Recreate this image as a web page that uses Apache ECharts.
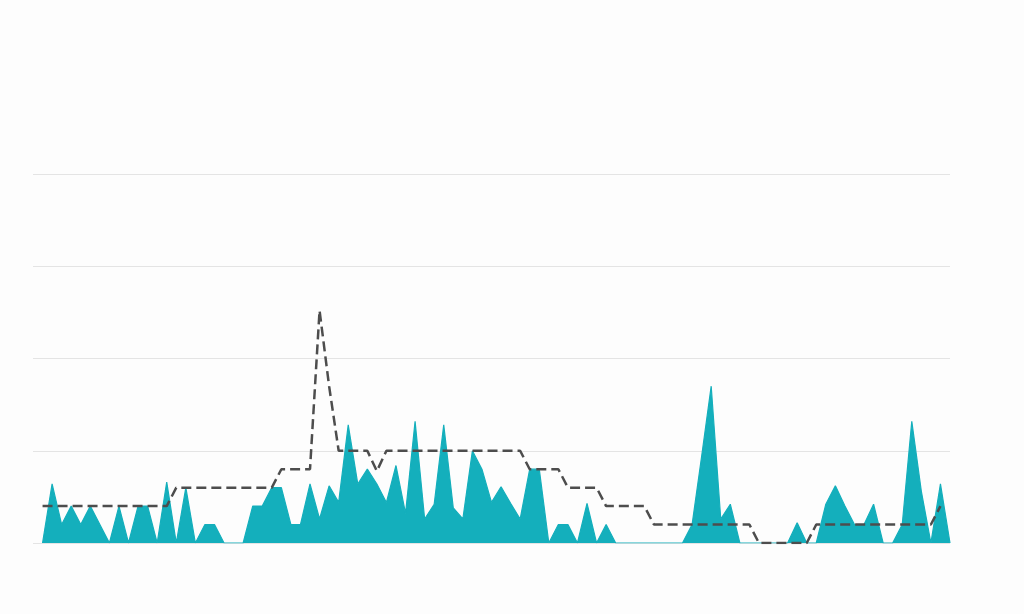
<!DOCTYPE html>
<html>
<head>
<meta charset="utf-8">
<script src="https://cdn.jsdelivr.net/npm/echarts@6/dist/echarts.min.js"></script>
<style>
html,body{margin:0;padding:0;background:#fdfdfd;}
#chart{width:1024px;height:614px;}
</style>
</head>
<body>
<div id="chart"></div>
<script>
var categories = [
  '0','1','2','3','4','5','6','7','8','9','10','11','12','13','14','15','16','17','18','19',
  '20','21','22','23','24','25','26','27','28','29','30','31','32','33','34','35','36','37','38','39',
  '40','41','42','43','44','45','46','47','48','49','50','51','52','53','54','55','56','57','58','59',
  '60','61','62','63','64','65','66','67','68','69','70','71','72','73','74','75','76','77','78','79',
  '80','81','82','83','84','85','86','87','88','89','90','91','92','93','94','95','96'
];

var dailyValues = [null,
  0,3.2,1,2,1,2,1,0,2,0,
  2,2,0,3.3,0,3,0,1,1,0,
  0,0,2,2,3,3,1,1,3.2,1.3,
  3.1,2.2,6.4,3.2,4,3.2,2.2,4.2,1.6,6.6,
  1.3,2.1,6.4,1.9,1.3,5,4,2.2,3.05,2.15,
  1.3,4,4,0,1,1,0,2.15,0,1,
  0,0,0,0,0,0,0,0,1,4.7,
  8.5,1.3,2.1,0,0,0,0,0,0,1.1,
  0,0,2.1,3.1,2,1,1,2.1,0,0,
  1,6.6,2.8,0,3.2,0
];

var averageValues = [null,
  2,2,2,2,2,2,2,2,2,2,
  2,2,2,2,3,3,3,3,3,3,
  3,3,3,3,3,4,4,4,4,12.6,
  8.5,5,5,5,5,3.9,5,5,5,5,
  5,5,5,5,5,5,5,5,5,5,
  5,4,4,4,4,3,3,3,3,2,
  2,2,2,2,1,1,1,1,1,1,
  1,1,1,1,1,0,0,0,0,0,
  0,1,1,1,1,1,1,1,1,1,
  1,1,1,1,2,null
];

var yTicks = [0,5,10,15,20];

var chart = echarts.init(document.getElementById('chart'));
chart.setOption({
  backgroundColor: '#fdfdfd',
  animation: false,
  grid: {left: 33, right: 74, top: 174, bottom: 71, containLabel: false},
  xAxis: {
    type: 'category',
    data: categories,
    boundaryGap: false,
    axisLine: {show: false},
    axisTick: {show: false},
    axisLabel: {show: false},
    splitLine: {show: false}
  },
  yAxis: {
    type: 'value',
    min: yTicks[0],
    max: yTicks[yTicks.length - 1],
    interval: yTicks[1] - yTicks[0],
    axisLine: {show: false},
    axisTick: {show: false},
    axisLabel: {show: false},
    splitLine: {lineStyle: {color: '#e4e4e4', width: 1.2}}
  },
  series: [
    {
      name: 'Daily',
      type: 'line',
      data: dailyValues,
      showSymbol: false,
      symbol: 'none',
      lineStyle: {color: '#14afbc', width: 1.2},
      areaStyle: {color: '#14afbc', opacity: 1},
      z: 2
    },
    {
      name: 'Average',
      type: 'line',
      data: averageValues,
      showSymbol: false,
      symbol: 'none',
      lineStyle: {color: '#4d4d4d', width: 2.5, type: [10, 5]},
      z: 3
    }
  ]
});
</script>
</body>
</html>
